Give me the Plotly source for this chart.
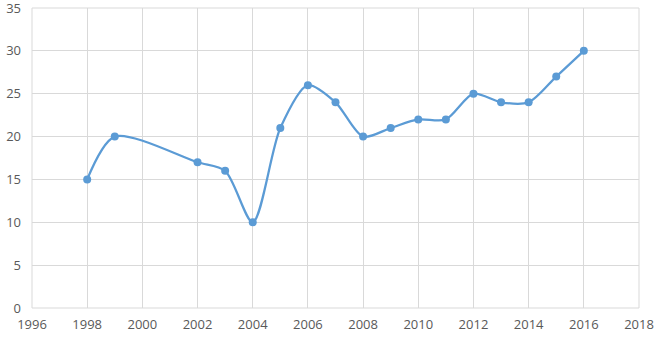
import plotly.graph_objects as go

years = [1998, 1999, 2002, 2003, 2004, 2005, 2006, 2007, 2008, 2009, 2010, 2011, 2012, 2013, 2014, 2015, 2016]
values = [15, 20, 17, 16, 10, 21, 26, 24, 20, 21, 22, 22, 25, 24, 24, 27, 30]
x_ticks = [1996, 1998, 2000, 2002, 2004, 2006, 2008, 2010, 2012, 2014, 2016, 2018]
y_ticks = [0, 5, 10, 15, 20, 25, 30, 35]

fig = go.Figure(go.Scatter(
    x=years, y=values, mode="lines+markers",
    line=dict(color="#5B9BD5", width=2.25, shape="spline", smoothing=0.8),
    marker=dict(color="#5B9BD5", size=8),
    cliponaxis=False,
))

axis_font = dict(family="Open Sans, Liberation Sans, sans-serif", size=13, color="#595959")
fig.update_layout(
    width=660, height=340,
    margin=dict(l=32, r=21, t=8, b=32),
    paper_bgcolor="white", plot_bgcolor="white",
    showlegend=False,
    xaxis=dict(range=[1996, 2018], tickmode="array", tickvals=x_ticks, showgrid=True, gridcolor="#D9D9D9",
               zeroline=False, showline=False, ticks="", tickfont=axis_font,
               automargin=False, ticklabelstandoff=7, ticklabeloverflow="allow"),
    yaxis=dict(range=[0, 35], tickmode="array", tickvals=y_ticks, showgrid=True, gridcolor="#D9D9D9",
               zeroline=False, showline=False, ticks="", tickfont=axis_font,
               automargin=False, ticklabelstandoff=10, ticklabeloverflow="allow"),
)
fig.add_shape(type="rect", xref="paper", yref="paper", x0=0, x1=1, y0=0, y1=1,
              line=dict(color="#D9D9D9", width=1), layer="below")
fig.write_html("out.html", config={"displayModeBar": False})

with open("out.html", encoding="utf-8") as f:
    html = f.read()
html = html.replace("<head>", "<head><style>html,body{margin:0;padding:0;overflow:hidden}</style>", 1)
with open("out.html", "w", encoding="utf-8") as f:
    f.write(html)
